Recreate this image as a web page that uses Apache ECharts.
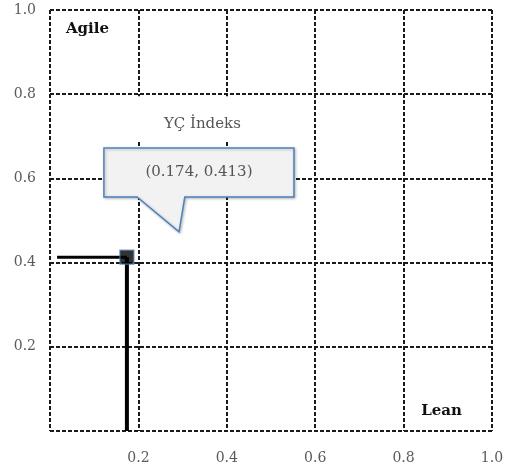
<!DOCTYPE html>
<html>
<head>
<meta charset="utf-8">
<script src="https://cdn.jsdelivr.net/npm/echarts@6/dist/echarts.min.js"></script>
<style>
  html, body { margin: 0; padding: 0; background: #fff; }
  #chart { width: 509px; height: 475px; }
</style>
</head>
<body>
<div id="chart"></div>
<script>
// Index point on the Lean / Agile plane
const pointName = 'YÇ İndeks';
const pointX = 0.174;
const pointY = 0.413;
// Where the horizontal guide starts on the x axis
const guideStartX = 0.016;
// Axis range and tick step
const axisMin = 0;
const axisMax = 1;
const axisStep = 0.2;
// Corner labels
const cornerLabels = ['Agile', 'Lean'];

const serif = '"DejaVu Serif", "Liberation Serif", serif';
const gridLine = { show: true, lineStyle: { color: '#1a1a1a', width: 2, type: [4, 2] } };

const chart = echarts.init(document.getElementById('chart'));

function tickText(v) {
  return v === 0 ? '' : v.toFixed(1);
}

chart.setOption({
  animation: false,
  grid: { left: 50, right: 17, top: 10, bottom: 44 },
  xAxis: {
    type: 'value', min: axisMin, max: axisMax, interval: axisStep,
    axisLine: { show: false }, axisTick: { show: false },
    splitLine: gridLine,
    axisLabel: { formatter: tickText, color: '#5a5a5a', fontFamily: serif, fontSize: 14, margin: 20 }
  },
  yAxis: {
    type: 'value', min: axisMin, max: axisMax, interval: axisStep,
    axisLine: { show: false }, axisTick: { show: false },
    splitLine: gridLine,
    axisLabel: { formatter: tickText, color: '#5a5a5a', fontFamily: serif, fontSize: 14, margin: 14 }
  },
  series: [
    {
      type: 'line', symbol: 'none', z: 3,
      lineStyle: { color: '#000', width: 3 },
      data: [[guideStartX, pointY], [pointX, pointY]]
    },
    {
      type: 'line', symbol: 'none', z: 3,
      lineStyle: { color: '#000', width: 4 },
      data: [[pointX, axisMin], [pointX, pointY]]
    },
    {
      type: 'scatter', name: pointName, z: 5,
      symbol: 'rect', symbolSize: 14,
      itemStyle: { color: '#000', borderColor: '#4f81bd', borderWidth: 1.2 },
      data: [[pointX, pointY]]
    }
  ]
});

// Annotations placed in data space
function px(x, y) { return chart.convertToPixel({ gridIndex: 0 }, [x, y]); }

const boxTL = px(0.122, 0.672);
const boxBR = px(0.552, 0.556);
const tailA = px(0.197, 0.556);
const tailB = px(0.305, 0.556);
const tip = px(0.292, 0.473);
const titleTL = px(0.19, 0.795);
const titleBR = px(0.5, 0.69);
const agileAt = px(0.036, 0.972);
const leanAt = px(0.932, 0.03);

const callout = [
  [boxTL[0], boxTL[1]], [boxBR[0], boxTL[1]], [boxBR[0], boxBR[1]],
  [tailB[0], boxBR[1]], [tip[0], tip[1]], [tailA[0], boxBR[1]], [boxTL[0], boxBR[1]]
];

chart.setOption({
  graphic: [
    {
      type: 'rect', z: 50, silent: true,
      shape: { x: titleTL[0], y: titleTL[1], width: titleBR[0] - titleTL[0], height: titleBR[1] - titleTL[1] },
      style: { fill: '#fff' }
    },
    {
      type: 'text', z: 51, silent: true,
      x: (titleTL[0] + titleBR[0]) / 2, y: titleTL[1] + 28,
      style: { text: pointName, fill: '#555', font: '15px ' + serif, align: 'center', verticalAlign: 'middle' }
    },
    {
      type: 'polygon', z: 52, silent: true,
      shape: { points: callout },
      style: { fill: '#f2f2f2', stroke: '#4f81bd', lineWidth: 1.5, shadowBlur: 3, shadowColor: 'rgba(0,0,0,0.25)', shadowOffsetX: 1, shadowOffsetY: 1 }
    },
    {
      type: 'text', z: 53, silent: true,
      x: (boxTL[0] + boxBR[0]) / 2, y: (boxTL[1] + boxBR[1]) / 2,
      style: { text: '(' + pointX.toFixed(3) + ', ' + pointY.toFixed(3) + ')', fill: '#555', font: '15px ' + serif, align: 'center', verticalAlign: 'middle' }
    },
    {
      type: 'text', z: 53, silent: true,
      x: agileAt[0], y: agileAt[1],
      style: { text: cornerLabels[0], fill: '#111', font: 'bold 15px ' + serif, align: 'left', verticalAlign: 'top' }
    },
    {
      type: 'text', z: 53, silent: true,
      x: leanAt[0], y: leanAt[1],
      style: { text: cornerLabels[1], fill: '#111', font: 'bold 15px ' + serif, align: 'right', verticalAlign: 'bottom' }
    }
  ]
});
</script>
</body>
</html>
